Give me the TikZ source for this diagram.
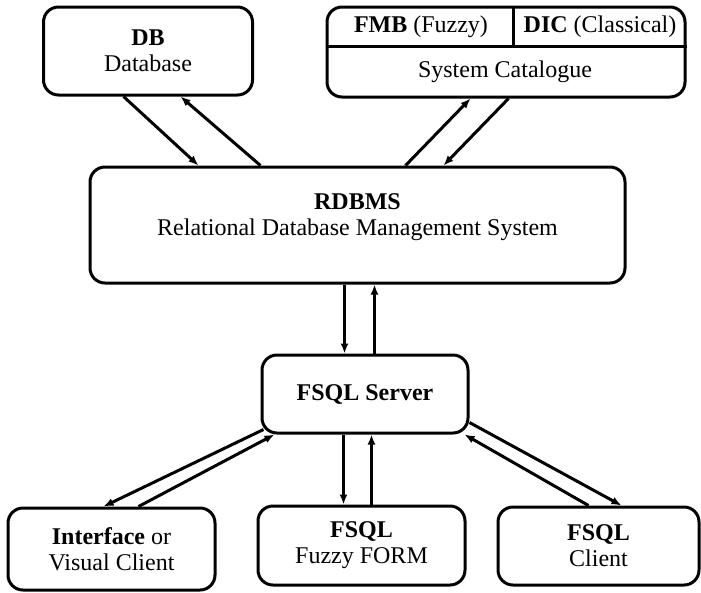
\documentclass[tikz,border=0pt]{standalone}
\usepackage{fontspec}
\setmainfont{Liberation Serif}
\usepackage{tikz}
\usetikzlibrary{arrows.meta,positioning}

\begin{document}
\begin{tikzpicture}[
    x=1pt, y=-1pt,
    box/.style={rectangle, draw, rounded corners=15pt, line width=3pt, inner sep=0pt, align=center, font=\fontsize{24}{26}\selectfont},
    lbl/.style={inner sep=0pt, align=center, font=\fontsize{24}{26}\selectfont},
    arrow/.style={-{Latex[length=10pt,width=8pt]}, line width=3pt}
]
\useasboundingbox (0,0) rectangle (701,592);
% Nodes
\node[box, minimum width=209pt, minimum height=88pt] (db) at (148,51) {\textbf{DB}\\Database};
\node[box, minimum width=358pt, minimum height=90pt] (cat) at (506,52) {};
\node[lbl] (fmb) at (421,27) {\textbf{FMB} (Fuzzy)};
\node[lbl] (dic) at (600,27) {\textbf{DIC} (Classical)};
\node[lbl] (syscat) at (505,72) {System Catalogue};
\node[box, minimum width=535pt, minimum height=116pt] (rdbms) at (357.5,225) {};
\node[lbl] (rdbmstext) at (357.5,217) {\textbf{RDBMS}\\Relational Database Management System};
\node[box, minimum width=206pt, minimum height=78pt] (server) at (365,394) {\textbf{FSQL Server}};
\node[box, minimum width=207pt, minimum height=82pt] (iface) at (111.5,549) {\textbf{Interface} or\\Visual Client};
\node[box, minimum width=207pt, minimum height=79pt] (form) at (361.5,545.5) {\textbf{FSQL}\\Fuzzy FORM};
\node[box, minimum width=201pt, minimum height=78pt] (client) at (598.5,546) {\textbf{FSQL}\\Client};

% Catalogue dividers
\draw[line width=3pt] ([yshift=-41pt]cat.north west) -- ([yshift=-41pt]cat.north east);
\draw[line width=3pt] ([xshift=188pt]cat.north west) -- ([xshift=188pt,yshift=-41pt]cat.north west);

% Arrows
\draw[arrow] ([xshift=81.5pt]db.south west) -- ([xshift=110pt]rdbms.north west);
\draw[arrow] ([xshift=172pt]rdbms.north west) -- ([xshift=138.5pt]db.south west);
\draw[arrow] ([xshift=317pt]rdbms.north west) -- ([xshift=145pt]cat.south west);
\draw[arrow] ([xshift=183pt]cat.south west) -- ([xshift=355pt]rdbms.north west);
\draw[arrow] ([xshift=256pt]rdbms.south west) -- ([xshift=84pt]server.north west);
\draw[arrow] ([xshift=114pt]server.north west) -- ([xshift=286pt]rdbms.south west);
\draw[arrow] ([xshift=83pt]server.south west) -- ([xshift=87pt]form.north west);
\draw[arrow] ([xshift=115pt]form.north west) -- ([xshift=111pt]server.south west);
\draw[arrow] ([xshift=3pt,yshift=5pt]server.south west) -- ([xshift=97pt]iface.north west);
\draw[arrow] ([xshift=132pt]iface.north west) -- ([xshift=14pt]server.south west);
\draw[arrow] ([yshift=12pt]server.south east) -- ([xshift=125pt]client.north west);
\draw[arrow] ([xshift=92pt]client.north west) -- ([xshift=-5pt]server.south east);
\end{tikzpicture}
\end{document}
